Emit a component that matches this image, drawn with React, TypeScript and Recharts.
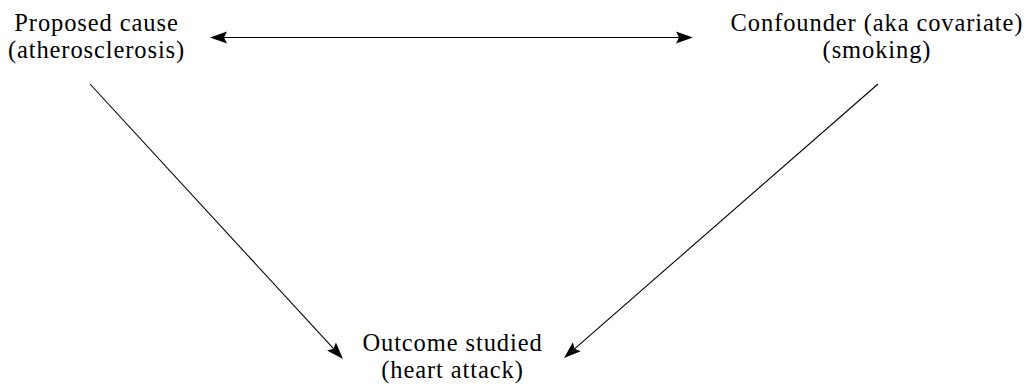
import React from 'react';
import { ComposedChart, XAxis, YAxis, ReferenceLine, ReferenceDot } from 'recharts';

// Node labels and their anchor positions (diagram coordinates: x right, y down)
const nodeNames = ['cause', 'confounder', 'outcome'];
const nodeX = [96.5, 877, 452.5];
const nodeY = [31, 31, 351];
const nodeLines = [
  ['Proposed cause', '(atherosclerosis)'],
  ['Confounder (aka covariate)', '(smoking)'],
  ['Outcome studied', '(heart attack)'],
];

// Edges: start point, end point, arrowheads at start / end
const edgeX1 = [210, 90, 878];
const edgeY1 = [37.5, 84, 84];
const edgeX2 = [693, 343, 564];
const edgeY2 = [37.5, 359, 358];
const edgeStartArrow = [true, false, false];
const edgeEndArrow = [true, true, true];

const FONT = '"Liberation Serif", "Times New Roman", serif';

function arrowHead(tx: number, ty: number, fx: number, fy: number) {
  const dx = tx - fx;
  const dy = ty - fy;
  const len = Math.sqrt(dx * dx + dy * dy) || 1;
  const ux = dx / len;
  const uy = dy / len;
  const L = 17;
  const W = 6;
  const bx = tx - ux * L;
  const by = ty - uy * L;
  const nx = -uy;
  const ny = ux;
  const mx = tx - ux * (L - 3);
  const my = ty - uy * (L - 3);
  return `M${tx},${ty} L${bx + nx * W},${by + ny * W} L${mx},${my} L${bx - nx * W},${by - ny * W} Z`;
}

const makeEdgeShape = (startArrow: boolean, endArrow: boolean) => (props: any) => {
  const { x1, y1, x2, y2 } = props;
  if ([x1, y1, x2, y2].some((v) => typeof v !== 'number' || isNaN(v))) return <g />;
  const dx = x2 - x1;
  const dy = y2 - y1;
  const len = Math.sqrt(dx * dx + dy * dy) || 1;
  const ux = dx / len;
  const uy = dy / len;
  const sx = startArrow ? x1 + ux * 14 : x1;
  const sy = startArrow ? y1 + uy * 14 : y1;
  const ex = endArrow ? x2 - ux * 14 : x2;
  const ey = endArrow ? y2 - uy * 14 : y2;
  return (
    <g>
      <line x1={sx} y1={sy} x2={ex} y2={ey} stroke="#000" strokeWidth={1.1} />
      {startArrow && <path d={arrowHead(x1, y1, x2, y2)} fill="#000" stroke="none" />}
      {endArrow && <path d={arrowHead(x2, y2, x1, y1)} fill="#000" stroke="none" />}
    </g>
  );
};

const makeNodeShape = (lines: string[]) => (props: any) => {
  const { cx, cy } = props;
  if (typeof cx !== 'number' || typeof cy !== 'number') return <g />;
  return (
    <g>
      {lines.map((t, i) => (
        <text
          key={i}
          x={cx}
          y={cy + i * 27}
          textAnchor="middle"
          fontFamily={FONT}
          fontSize={24.5}
          letterSpacing={0.9}
          fill="#000"
        >
          {t}
        </text>
      ))}
    </g>
  );
};

export default function App() {
  return (
    <div style={{ position: 'absolute', left: 0, top: 0, width: 1026, height: 384, background: '#fff' }}>
      <ComposedChart width={1026} height={384} margin={{ top: 0, right: 0, bottom: 0, left: 0 }} data={[]}>
        <XAxis type="number" dataKey="x" domain={[0, 1026]} hide allowDataOverflow />
        <YAxis type="number" dataKey="y" domain={[0, 384]} reversed hide allowDataOverflow width={0} />
        {edgeX1.map((_, i) => (
          <ReferenceLine
            key={'e' + i}
            segment={[
              { x: edgeX1[i], y: edgeY1[i] },
              { x: edgeX2[i], y: edgeY2[i] },
            ]}
            ifOverflow="visible"
            shape={makeEdgeShape(edgeStartArrow[i], edgeEndArrow[i])}
          />
        ))}
        {nodeNames.map((n, i) => (
          <ReferenceDot
            key={n}
            x={nodeX[i]}
            y={nodeY[i]}
            r={0}
            ifOverflow="visible"
            shape={makeNodeShape(nodeLines[i])}
          />
        ))}
      </ComposedChart>
    </div>
  );
}
